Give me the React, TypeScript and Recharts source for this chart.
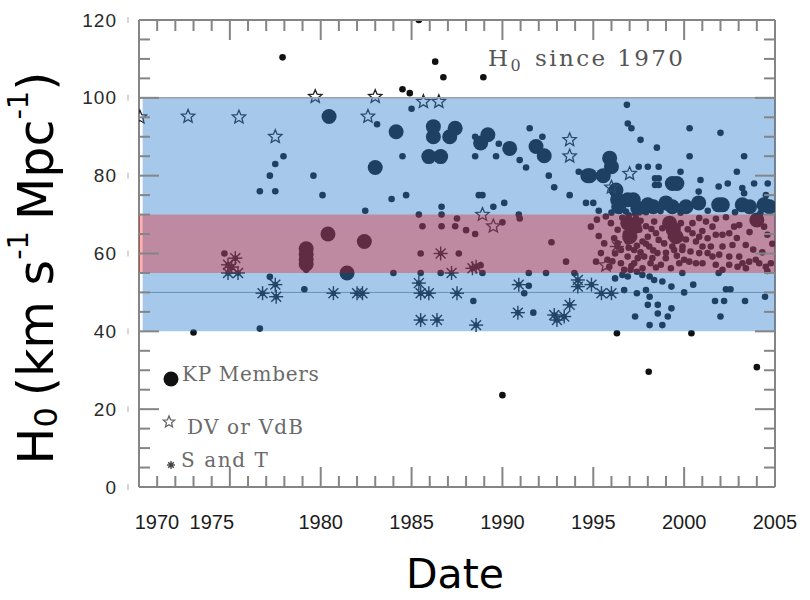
import React from 'react';
import { ScatterChart, Scatter, XAxis, YAxis, ReferenceArea, ReferenceLine } from 'recharts';

// ---- data ----
const yearTicks = [
  1970, 1971, 1972, 1973, 1974, 1975, 1976, 1977, 1978, 1979, 1980, 1981,
  1982, 1983, 1984, 1985, 1986, 1987, 1988, 1989, 1990, 1991, 1992, 1993,
  1994, 1995, 1996, 1997, 1998, 1999, 2000, 2001, 2002, 2003, 2004, 2005,
];
const majorYears = [1970, 1975, 1980, 1985, 1990, 1995, 2000, 2005];
const valueTicks = [
  0, 5, 10, 15, 20, 25, 30, 35, 40, 45, 50, 55, 60, 65, 70, 75, 80, 85, 90, 95,
  100, 105, 110, 115, 120,
];
const majorValues = [0, 20, 40, 60, 80, 100, 120];

const wideBand = [40, 100];
const narrowBand = [55, 70];

// [year, H0]
const otherResults: [number, number][] = [
  [1973.0, 39.7], [1976.65, 40.7], [1976.65, 76], [1977.5, 76], [1977.2, 80], [1977.5, 83], [1977.95, 85], [1977.9, 110.4],
  [1977.2, 54], [1979.1, 50.8], [1979.6, 80], [1980.1, 75], [1974.7, 60], [1979.2, 55.8],
  [1982.45, 71], [1983.1, 93.2], [1983.9, 74], [1984.5, 85], [1984.5, 102.2], [1984.9, 101.2], [1985.0, 97.2], [1984.7, 75],
  [1985.4, 120], [1986.3, 109.3], [1986.75, 105.3], [1988.95, 105.3],
  [1986.65, 72], [1986.65, 70], [1985.4, 70], [1985.6, 67], [1986.65, 67], [1987.4, 67], [1987.5, 69], [1988.0, 66], [1988.5, 65],
  [1985.5, 60], [1987.6, 60], [1988.8, 57],
  [1984.0, 55], [1985.5, 55], [1986.6, 55], [1988.9, 55], [1991.45, 55], [1992.4, 55], [1993.96, 55],
  [1988.5, 90], [1988.5, 85], [1988.7, 75], [1988.9, 75], [1989.5, 72], [1989.65, 85], [1989.8, 88.2], [1990.1, 73], [1990.0, 68],
  [1990.9, 70], [1990.95, 69], [1990.95, 84], [1991.3, 82.1], [1991.5, 92.2], [1992.2, 90], [1992.55, 80], [1992.85, 77],
  [1992.7, 62.9], [1993.5, 57.9], [1993.7, 75], [1994.2, 81], [1994.6, 73],
  [1988.4, 47.8], [1991.45, 51.7], [1991.2, 49.8], [1991.7, 44.8], [1990.0, 23.6],
  [1996.85, 98.2], [1996.9, 93.4], [1997.1, 92.2], [1997.6, 89.2], [1998.5, 87.2], [2000.3, 92.2], [2002.0, 91],
  [2000.3, 85], [2003.3, 85], [2002.9, 81], [1999.8, 81], [1997.5, 82.3], [1998.0, 82.3], [1998.6, 82.3],
  [1998.4, 79.3], [1998.6, 79.3], [1998.4, 77.6], [1998.6, 77.6], [2000.9, 78.9], [2000.8, 75.9], [2001.9, 77.2], [2002.4, 78],
  [2003.2, 76.8], [2003.3, 75.5], [2003.85, 78], [2004.6, 78], [2004.5, 75], [1995.0, 73], [1995.3, 71], [1996.0, 70.5],
  [1996.8, 70.8], [1997.3, 70.3], [1997.9, 70.6], [1998.7, 70.9], [1999.8, 70.5], [2001.3, 71.0], [2002.8, 70.6], [2004.2, 70.4],
  [1996.7, 50.6], [1997.4, 49.8], [1997.9, 50.6], [1998.1, 48.9], [1998.0, 46.8], [1998.55, 46.8], [1998.8, 52.8], [1999.3, 51.5],
  [1998.55, 44.6], [1999.3, 45.9], [1997.3, 43.8], [1998.1, 41.6], [1998.8, 41.6], [1999.1, 43.8],
  [1996.2, 53.6], [1996.6, 54.5], [1996.9, 54.1], [1997.05, 55.8], [1997.4, 55.3], [1997.7, 54.5], [1998.1, 54.1], [1998.35, 53.2],
  [1999.9, 55], [2001.9, 55], [2000.5, 52], [2000.0, 50], [2002.3, 50.8], [2002.55, 50.8], [2001.7, 47.8], [2002.2, 47.8],
  [2003.35, 47.8], [2004.45, 48.9], [2002.0, 43.8],
  [1996.3, 39.5], [2000.4, 39.5], [1998.05, 29.6], [2004.0, 30.8],
  [1994.87, 66.9], [1995.42, 60.1], [1995.15, 57.9], [1995.69, 69.5], [1995.97, 67.8], [1996.34, 66.1], [1996.15, 63.9],
  [1996.7, 67.8], [1996.8, 65.2], [1996.89, 63.1], [1996.52, 60.9], [1996.89, 59.2], [1997.25, 60.9], [1997.53, 66.1],
  [1997.71, 63.1], [1997.8, 59.2], [1998.08, 61.8], [1998.35, 68.2], [1998.45, 65.2], [1998.53, 60.1], [1998.9, 62.6],
  [1998.99, 58.8], [1999.27, 64.3], [1999.45, 60.9], [1999.63, 66.9], [1999.73, 57.5], [1997.25, 57.5], [1996.52, 57.5],
  [1995.88, 56.6], [1998.15, 57.5], [1998.72, 57.1], [1999.27, 56.2], [1997.71, 56.2], [1997.07, 67.8], [1997.25, 64.3],
  [1996.34, 62.6], [1995.6, 62.6], [1995.78, 58.4], [1999.17, 68.6], [1999.82, 63.9], [1999.9, 60.9], [1998.8, 66.5],
  [1998.0, 64.3], [1999.35, 61.8], [1998.25, 58.8], [1997.45, 58.8], [1996.7, 55.8],
  [1996.6, 69.2], [1996.95, 69.8], [1997.35, 69.0], [1997.6, 68.4], [1997.9, 67.0], [1998.2, 66.3], [1997.4, 62.0],
  [1997.9, 62.5], [1998.6, 63.5], [1998.3, 60.8], [1997.6, 60.3], [1996.95, 61.5], [1996.2, 60.0], [1996.05, 58.0],
  [1997.1, 56.8], [1998.45, 56.4], [1999.0, 60.2], [1999.6, 59.4], [1995.3, 64.5], [1995.2, 68.7],
  [1999.82, 67.8], [2000.46, 67.8], [2000.83, 69.1], [2001.2, 68.2], [2001.56, 66.9], [2000.46, 65.2], [2000.83, 64.3],
  [2001.29, 63.9], [2001.74, 64.8], [2002.11, 64.8], [2002.48, 65.2], [2002.75, 66.9], [2003.03, 67.3], [2000.65, 63.1],
  [2001.01, 61.8], [2001.47, 61.8], [2002.11, 61.8], [2002.66, 62.2], [2003.39, 62.2], [2000.83, 60.1], [2001.29, 60.1],
  [2001.56, 59.2], [2001.93, 59.7], [2002.48, 59.2], [2003.03, 59.2], [2003.58, 57.9], [2003.94, 58.4], [2004.13, 57.5],
  [2004.49, 56.6], [2004.77, 57.5], [2004.58, 64.8], [2004.13, 67.8], [2004.4, 66.9], [1999.91, 61.8], [2000.0, 58.4],
  [2000.28, 57.9], [2000.65, 57.5], [2001.01, 57.5], [2001.74, 57.1], [2002.48, 57.1], [2002.94, 56.6], [2003.21, 57.5],
  [2002.11, 55.8], [2004.58, 55.5],
  [2000.2, 66.2], [2000.1, 63.6], [2000.35, 60.5], [2001.0, 65.8], [2001.75, 68.9], [2002.3, 69.3], [2002.9, 64.0],
  [2003.6, 65.5], [2003.8, 61.0], [2004.3, 60.3], [2004.85, 62.5], [2003.4, 56.2],
];

const kpMembers: [number, number][] = [
  [1980.46, 95.2], [1984.15, 91.3], [1983.0, 82.1], [1986.2, 92.6], [1986.2, 90], [1987.4, 92.2], [1987.1, 90],
  [1985.95, 84.9], [1986.6, 84.9], [1989.2, 90.5], [1988.8, 88.4], [1990.4, 87], [1991.85, 87.5], [1992.3, 85.1],
  [1994.7, 80], [1980.4, 65], [1982.4, 63.1], [1979.2, 61.2], [1979.2, 59.8], [1979.2, 58.5], [1979.2, 57.3], [1981.45, 55],
  [1994.8, 80], [1995.55, 80], [1995.9, 84.5], [1996.0, 82.3], [1996.25, 76.3], [1996.34, 73.8], [1996.9, 73.8],
  [1997.2, 73.8], [1996.4, 72], [1997.45, 71.6], [1998.0, 72.5], [1998.3, 72], [1999.0, 73], [1999.35, 72],
  [1999.35, 78], [1999.6, 78], [2000.1, 72], [2000.8, 73], [2001.9, 72.5], [2002.1, 72.5], [2003.2, 72.5],
  [2003.6, 72], [2004.4, 72.5], [2004.7, 72],
  [1996.9, 67.8], [1997.0, 64.3], [1997.25, 66.9], [1999.2, 67.8], [1999.4, 66.1], [1999.55, 64.3], [2004.0, 68.6],
];

const dvOrVdb: [number, number][] = [
  [1970.05, 95], [1972.7, 95.2], [1975.5, 95], [1977.5, 90], [1979.7, 100.3], [1983.0, 100.3], [1982.6, 95.2],
  [1985.65, 99], [1986.5, 99], [1988.9, 70], [1989.5, 67], [1993.7, 89.2], [1993.7, 85], [1996.0, 77],
  [1997.0, 80.5], [1995.7, 57],
];

const sandageTammann: [number, number][] = [
  [1974.9, 57.1], [1975.3, 58.8], [1975.1, 56.5], [1974.9, 55], [1975.45, 55], [1976.8, 49.8], [1977.5, 52],
  [1977.55, 48.9], [1980.7, 49.8], [1982.0, 49.8], [1982.3, 49.8], [1985.4, 52.4], [1985.5, 49.8], [1985.95, 49.8],
  [1985.5, 42.9], [1986.4, 42.9], [1986.6, 60], [1987.2, 55], [1987.5, 49.8], [1988.55, 56.6], [1988.35, 56.2],
  [1988.55, 41.6], [1990.85, 44.8], [1990.9, 52], [1992.85, 44.2], [1993.0, 42.9], [1993.4, 43.8], [1993.7, 46.8],
  [1994.15, 53.2], [1994.15, 51.5], [1994.9, 52], [1995.45, 49.8], [1996.0, 49.8], [1996.3, 61.8],
];

const toPoints = (rows: [number, number][]) => rows.map(([x, y]) => ({ x, y }));

// ---- styling ----
const FRAME = '#858585';
const INK = '#111';
// inward year-tick lengths, in H0 units (about 11px / 20px on this scale)
const MINOR_TICK = 2.8;
const MAJOR_TICK = 5.1;

const starPoints = (cx: number, cy: number, R: number, r: number) => {
  const pts: string[] = [];
  for (let i = 0; i < 10; i++) {
    const a = -Math.PI / 2 + (i * Math.PI) / 5;
    const rad = i % 2 === 0 ? R : r;
    pts.push(`${cx + rad * Math.cos(a)},${cy + rad * Math.sin(a)}`);
  }
  return pts.join(' ');
};

const SmallDot = (p: any) => (p.cx == null ? null : <circle cx={p.cx} cy={p.cy} r={3.3} fill={INK} />);
const BigDot = (p: any) => (p.cx == null ? null : <circle cx={p.cx} cy={p.cy} r={7.5} fill={INK} />);
const OpenStar = (p: any) =>
  p.cx == null ? null : (
    <polygon points={starPoints(p.cx, p.cy, p.R ?? 7, (p.R ?? 7) * 0.45)} fill="none" stroke={p.color ?? '#222'} strokeWidth={1.3} />
  );
const Asterisk = (p: any) => {
  if (p.cx == null) return null;
  const R = p.R ?? 7;
  const spokes = [0, 1, 2, 3].map((i) => {
    const a = (i * Math.PI) / 4;
    return (
      <line key={i} x1={p.cx - R * Math.cos(a)} y1={p.cy - R * Math.sin(a)} x2={p.cx + R * Math.cos(a)} y2={p.cy + R * Math.sin(a)} />
    );
  });
  return (
    <g stroke={p.color ?? '#1a1a1a'} strokeWidth={1.4}>
      {spokes}
      <circle cx={p.cx} cy={p.cy} r={R * 0.3} fill={p.color ?? '#1a1a1a'} />
    </g>
  );
};

// a short vertical tick drawn through the library's scales (used as a Scatter shape on the frame edges)
const YearTickMark = (p: any) => {
  if (p.cx == null) return null;
  const major = majorYears.includes(p.payload?.x);
  const len = major ? 20 : 11;
  const dir = p.payload?.y > 60 ? 1 : -1;
  return <line x1={p.cx} y1={p.cy} x2={p.cx} y2={p.cy + dir * len} stroke={FRAME} strokeWidth={2} />;
};

const xLabelShift: Record<number, number> = { 1970: 18, 1975: -18 };

const YearLabel = (props: any) => {
  const { x, y, payload } = props;
  return (
    <text x={x + (xLabelShift[payload.value] ?? 0)} y={y + 35} textAnchor="middle" dominantBaseline="central"
      fontFamily="'Liberation Sans', Arial, sans-serif" fontSize={20} fill="#1c1c1c">
      {payload.value}
    </text>
  );
};

const LeftTick = (props: any) => {
  const { x, y, payload } = props;
  const major = majorValues.includes(payload.value);
  return (
    <g>
      <line x1={x} y1={y} x2={x + (major ? 20 : 11)} y2={y} stroke={FRAME} strokeWidth={2} />
      {major && (
        <>
          <line x1={x - 11} y1={y - 3} x2={x - 11} y2={y + 3} stroke="#bbb" strokeWidth={1.2} />
          <text x={x - 22} y={y} textAnchor="end" dominantBaseline="central"
            fontFamily="'Liberation Sans', Arial, sans-serif" fontSize={19} letterSpacing={1} fill="#2a2a2a">
            {payload.value}
          </text>
        </>
      )}
    </g>
  );
};

const RightTick = (props: any) => {
  const { x, y, payload } = props;
  const major = majorValues.includes(payload.value);
  return <line x1={x} y1={y} x2={x - (major ? 20 : 11)} y2={y} stroke={FRAME} strokeWidth={2} />;
};

export default function App() {
  const axisLine = { stroke: FRAME, strokeWidth: 2 };
  const bottomEdge = yearTicks.map((x) => ({ x, y: 0 }));
  const topEdge = yearTicks.map((x) => ({ x, y: 120 }));
  return (
    <div style={{ position: 'absolute', left: 0, top: 0, width: 810, height: 600, background: '#fff' }}>
      <ScatterChart width={810} height={600} margin={{ top: 20, right: 34, bottom: 0, left: 0 }}>
        <XAxis dataKey="x" type="number" domain={[1970, 2005]} allowDataOverflow ticks={majorYears} interval={0}
          height={113} tickSize={0} tickMargin={0} tickLine={false} axisLine={axisLine} tick={YearLabel} />
        <YAxis dataKey="y" type="number" domain={[0, 120]} allowDataOverflow ticks={valueTicks} interval={0}
          width={139} tickSize={0} tickMargin={0} tickLine={false} axisLine={axisLine} tick={LeftTick} />
        <YAxis yAxisId="right" orientation="right" type="number" domain={[0, 120]} allowDataOverflow ticks={valueTicks}
          interval={0} width={1} tickSize={0} tickMargin={0} tickLine={false} axisLine={axisLine} tick={RightTick} />

        <Scatter data={toPoints(otherResults)} shape={SmallDot} isAnimationActive={false} />
        <Scatter data={toPoints(kpMembers)} shape={BigDot} isAnimationActive={false} />
        <Scatter data={toPoints(dvOrVdb)} shape={OpenStar} isAnimationActive={false} />
        <Scatter data={toPoints(sandageTammann)} shape={Asterisk} isAnimationActive={false} />

        <ReferenceArea x1={1970.2} x2={2005} y1={wideBand[0]} y2={wideBand[1]} fill="#2f80d1" fillOpacity={0.43}
          stroke="none" zIndex={700} />
        <ReferenceArea x1={1970} x2={2005} y1={narrowBand[0]} y2={narrowBand[1]} fill="#f50000" fillOpacity={0.31}
          stroke="none" zIndex={701} />
        <ReferenceLine y={wideBand[1]} stroke="#9aa3ab" strokeWidth={1.5} zIndex={702} />
        <ReferenceLine y={50} stroke="#1f4f7a" strokeOpacity={0.45} strokeWidth={1} zIndex={702} />

        {/* top frame line and inward year ticks along the top and bottom edges */}
        <ReferenceLine y={120} stroke={FRAME} strokeWidth={2} zIndex={710} />
        <Scatter data={bottomEdge} shape={YearTickMark} isAnimationActive={false} legendType="none" />
        <Scatter data={topEdge} shape={YearTickMark} isAnimationActive={false} legendType="none" />
      </ScatterChart>

      <svg width={810} height={600} style={{ position: 'absolute', left: 0, top: 0, pointerEvents: 'none' }}>
        <text x={488} y={66} fontFamily="'DejaVu Serif', serif" fontSize={23} letterSpacing={2.4} fill="#555">
          H<tspan fontSize={16} dy={5}>0</tspan>
          <tspan dy={-5} dx={12}>since 1970</tspan>
        </text>

        <BigDot cx={171} cy={379} />
        <text x={182} y={381} fontFamily="'DejaVu Serif', serif" fontSize={20} letterSpacing={0.7} fill="#6a6a6a">KP Members</text>
        <OpenStar cx={169} cy={422} R={6} color="#666" />
        <text x={187} y={434} fontFamily="'DejaVu Serif', serif" fontSize={20} letterSpacing={1.2} fill="#6a6a6a">DV or VdB</text>
        <Asterisk cx={171} cy={465} R={4} color="#444" />
        <text x={181} y={467} fontFamily="'DejaVu Serif', serif" fontSize={20} letterSpacing={1.6} fill="#6a6a6a">S and T</text>

        <text transform="rotate(-90)" x={-268} y={36} textAnchor="middle" dominantBaseline="central"
          fontFamily="'DejaVu Sans', sans-serif" fontSize={49} fill="#000">
          H<tspan fontSize={32} dy={10}>0</tspan>
          <tspan dy={-10} dx={11}>(km s</tspan>
          <tspan fontSize={29} dy={-18}>-1</tspan>
          <tspan dy={18} dx={11}>Mpc</tspan>
          <tspan fontSize={29} dy={-18}>-1</tspan>
          <tspan dy={18}>)</tspan>
        </text>

        <text x={455} y={574} textAnchor="middle" dominantBaseline="central" fontFamily="'DejaVu Sans', sans-serif"
          fontSize={41} fill="#000">
          Date
        </text>
      </svg>
    </div>
  );
}
